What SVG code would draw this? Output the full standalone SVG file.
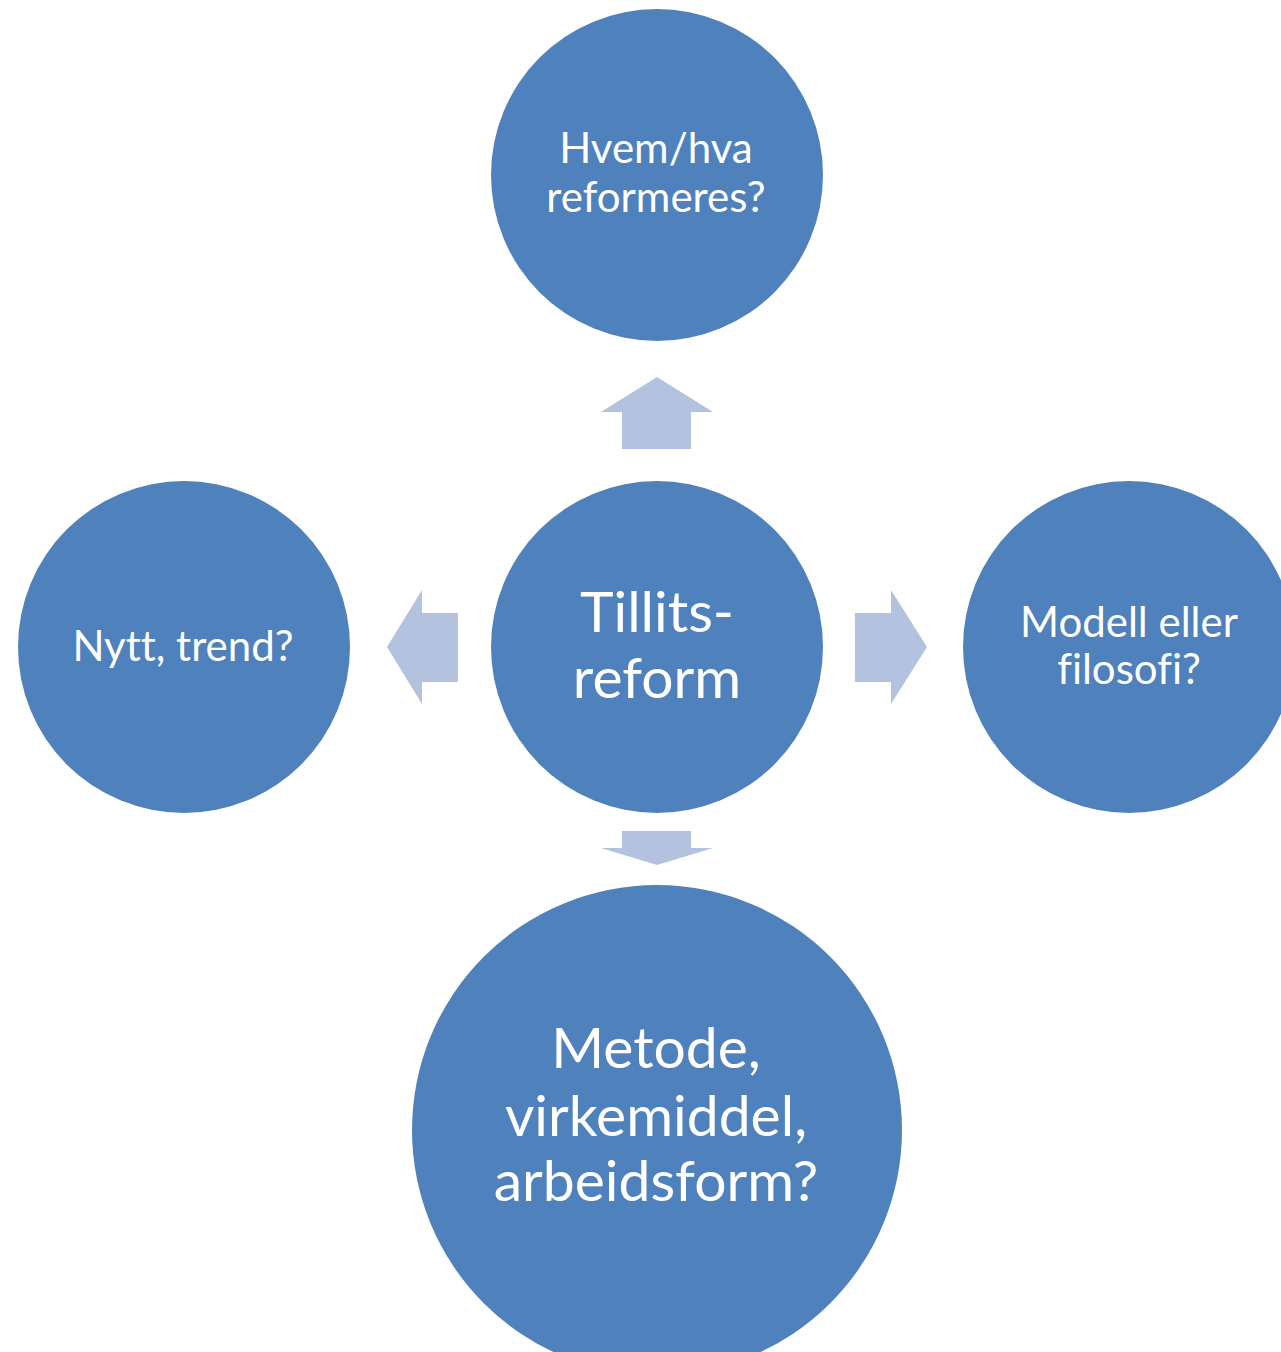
<svg xmlns="http://www.w3.org/2000/svg" width="1281" height="1352" viewBox="0 0 1281 1352">
  <style>
    .node { fill: #4F81BD; }
    .arrow { fill: #B3C2DE; }
    .t { fill: #FFFFFF; font-family: Lato, "Open Sans", "Liberation Sans", sans-serif; text-anchor: middle; font-variant-ligatures: none; }
    .s { font-size: 42px; }
    .l { font-size: 57px; }
  </style>
  <rect width="1281" height="1352" fill="#FFFFFF"/>
  <g id="connectors">
    <polygon class="arrow" points="657,377 713,412 691,412 691,449 622,449 622,412 601,412"/>
    <polygon class="arrow" points="387,647 422,590 422,613 458,613 458,682 422,682 422,704"/>
    <polygon class="arrow" points="927,647 891,590 891,613 855,613 855,682 891,682 891,704"/>
    <polygon class="arrow" points="657,865 713,848 691,848 691,831 622,831 622,848 601,848"/>
  </g>
  <g id="node-top">
    <circle class="node" cx="657" cy="175" r="166"/>
    <text class="t s" x="656" y="163">Hvem/hva</text>
    <text class="t s" x="656" y="212">reformeres?</text>
  </g>
  <g id="node-center">
    <circle class="node" cx="657" cy="647" r="166"/>
    <text class="t l" x="657" y="632">Tillits-</text>
    <text class="t l" x="657" y="698">reform</text>
  </g>
  <g id="node-left">
    <circle class="node" cx="184" cy="647" r="166"/>
    <text class="t s" x="183" y="661">Nytt, trend?</text>
  </g>
  <g id="node-right">
    <circle class="node" cx="1129" cy="647" r="166"/>
    <text class="t s" x="1129" y="637">Modell eller</text>
    <text class="t s" x="1129" y="684">filosofi?</text>
  </g>
  <g id="node-bottom">
    <circle class="node" cx="657" cy="1130" r="245"/>
    <text class="t l" x="656" y="1068">Metode,</text>
    <text class="t l" x="656" y="1136">virkemiddel,</text>
    <text class="t l" x="656" y="1201">arbeidsform?</text>
  </g>
</svg>
